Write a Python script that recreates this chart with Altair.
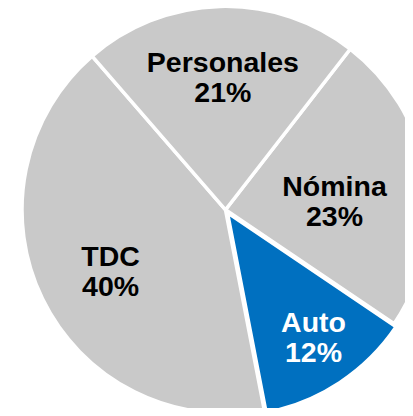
import math
import altair as alt
import pandas as pd

# Data (clockwise from the Nómina/Personales boundary)
categorias = ["Nómina", "Auto", "TDC", "Personales"]
porcentajes = [23, 12, 40, 21]
colores = ["#C9C9C9", "#0070C0", "#C9C9C9", "#C9C9C9"]

df = pd.DataFrame({"cat": categorias, "pct": porcentajes})
df["orden"] = range(len(df))
df["etiqueta"] = df["cat"] + "\n" + df["pct"].astype(str) + "%"

CX, CY, R = 217.5, 201.8, 203.5
start = math.radians(37.8)

theta = alt.Theta("pct:Q", stack=True, scale=alt.Scale(range=[start, start + 2 * math.pi]))
order = alt.Order("orden:Q", sort="ascending")
color = alt.Color("cat:N", scale=alt.Scale(domain=categorias, range=colores), legend=None)

base = alt.Chart(df).encode(theta=theta, order=order)

pie = base.mark_arc(radius=R, stroke="white", strokeWidth=3.5).encode(
    x=alt.value(CX), y=alt.value(CY), color=color,
    opacity=alt.condition("datum.cat == 'Auto'", alt.value(0), alt.value(1)),
)
auto = base.mark_arc(radius=R, stroke="white", strokeWidth=3.5).encode(
    x=alt.value(CX + 2), y=alt.value(CY + 3), color=color,
    opacity=alt.condition("datum.cat == 'Auto'", alt.value(1), alt.value(0)),
)

SHIFT = -15


def label(cat, r, dx, dy, col):
    return base.mark_text(
        radius=r, dx=dx, dy=dy + SHIFT, font="Liberation Sans", fontWeight="bold",
        fontSize=28.5, lineBreak="\n", lineHeight=30, align="center",
        baseline="middle", color=col,
    ).encode(
        x=alt.value(CX), y=alt.value(CY), text="etiqueta:N",
        opacity=alt.condition(f"datum.cat == '{cat}'", alt.value(1), alt.value(0)),
    )


labels = [
    label("Personales", 131.5, 1, 0, "black"),
    label("Nómina", 109, 1.4, 9, "black"),
    label("TDC", 130, 2, 5, "black"),
    label("Auto", 155, 2.6, -1.6, "white"),
]

chart = alt.layer(pie, auto, *labels).properties(
    width=397, height=400, autosize="none", padding=0
).configure_view(stroke=None)

chart.save("out.html", embed_options={"renderer": "svg", "actions": False})
